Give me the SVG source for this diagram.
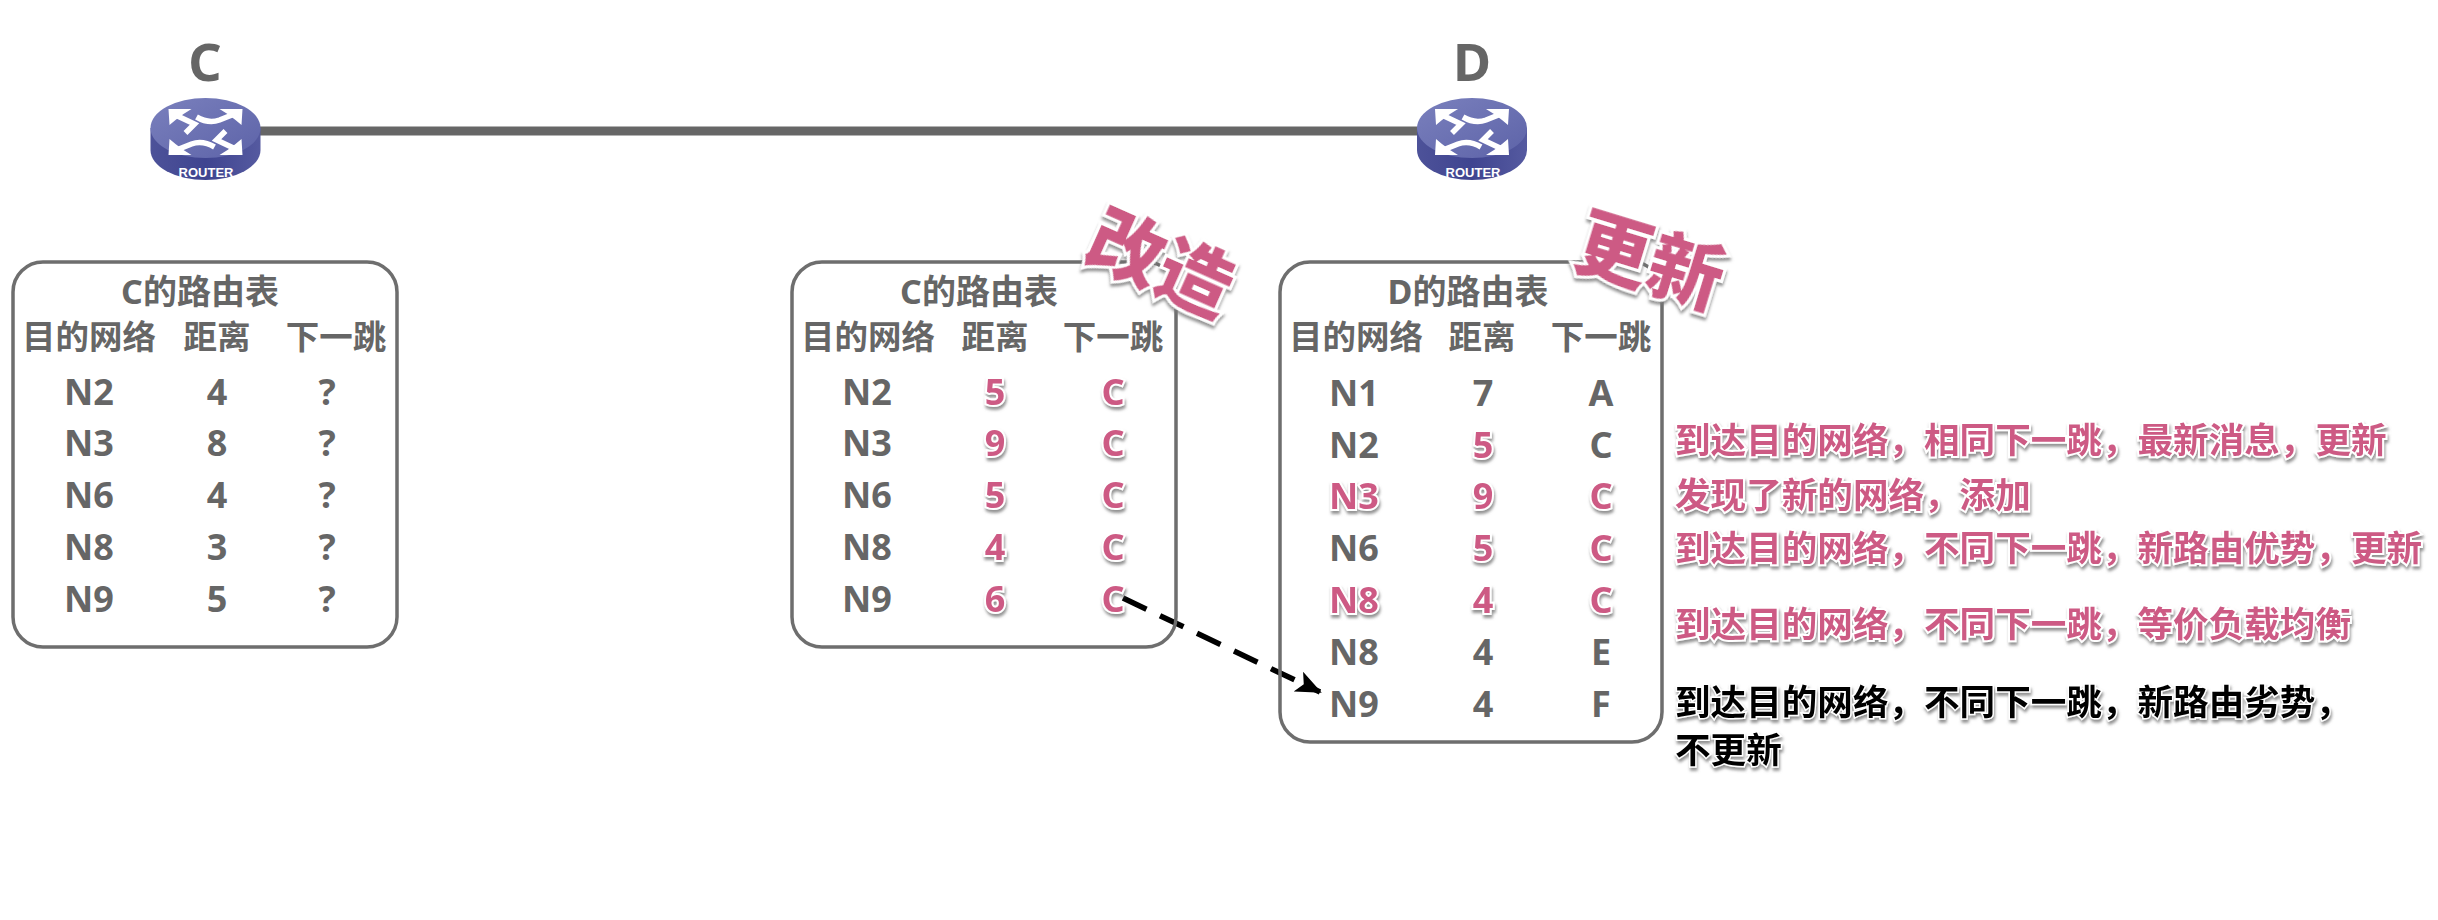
<svg xmlns="http://www.w3.org/2000/svg" width="2438" height="920" viewBox="0 0 2438 920">
<style>
text{font-family:"Noto Sans","Noto Sans CJK SC",sans-serif;font-weight:700}
.c{text-anchor:middle}
.g{fill:#666}
.h{font-size:33.500px}
.ti{font-size:34px}
.r{font-size:36px}
.p{fill:#cd5a84;stroke:#fff;stroke-width:4px;paint-order:stroke;filter:url(#sh)}
.n{font-size:35.6px;font-family:"Noto Sans CJK SC","Noto Sans",sans-serif}
.k{fill:#000;stroke:#fff;stroke-width:3px;paint-order:stroke;filter:url(#sh)}
.big{font-size:75px;font-weight:900;font-family:"Noto Sans CJK SC",sans-serif;fill:#cd5a84;stroke:#fff;stroke-width:6px;paint-order:stroke;filter:url(#sh);text-anchor:middle}
.box{fill:none;stroke:#6e6e6e;stroke-width:3.5}
.rt{fill:#fff;font-size:13px;text-anchor:middle;font-family:"Liberation Sans",sans-serif}
</style>
<defs>
<filter id="sh" x="-20%" y="-30%" width="140%" height="170%"><feDropShadow dx="1" dy="3" stdDeviation="1.5" flood-color="#777" flood-opacity=".8"/></filter>
<linearGradient id="top" x1="0" y1="0" x2="1" y2="1"><stop offset="0" stop-color="#7a80bd"/><stop offset="1" stop-color="#5d63a8"/></linearGradient>
<linearGradient id="base" x1="0" y1="0" x2="1" y2="0"><stop offset="0" stop-color="#4d5299"/><stop offset=".5" stop-color="#3f4490"/><stop offset="1" stop-color="#555aa0"/></linearGradient>
<marker id="ah" markerUnits="userSpaceOnUse" markerWidth="26" markerHeight="22" refX="24" refY="11" orient="auto"><path d="M0,0L26,11L0,22L6,11Z" fill="#000"/></marker>
<g id="router">
<path d="M-55,-3V19A55,30 0 0 0 55,19V-3Z" fill="url(#base)"/>
<ellipse cx="0" cy="-3" rx="55" ry="30" fill="url(#top)"/>
<g id="arrows" fill="none" stroke="#fff" stroke-width="5.500">
<g id="pair">
<path d="M-28,-15L-11,-7L-20,2"/>
<path d="M-37,-22H-14L-22,-17L-30,-11L-36,-6Z" fill="#fff" stroke="none"/>
<path d="M-9,-14Q3,-7 14,-11L29,-17"/>
<path d="M37,-22H14L22,-17L30,-11L36,-6Z" fill="#fff" stroke="none"/>
</g>
<use href="#pair" transform="translate(0,2) rotate(180)"/>
</g>
</g>
</defs>
<rect width="2438" height="920" fill="#fff"/>
<g id="connectors">
<line x1="258" y1="131" x2="1420" y2="131" stroke="#666" stroke-width="9"/>
<line x1="1123" y1="598" x2="1320" y2="692" stroke="#000" stroke-width="5.5" stroke-dasharray="26 15" marker-end="url(#ah)"/>
</g>
<g id="router-c">
<text class="c g" x="205" y="81" font-size="52">C</text>
<use href="#router" transform="translate(205.500,131)"/>
<text class="rt" x="206" y="177">ROUTER</text>
</g>
<g id="router-d">
<text class="c g" x="1472" y="81" font-size="52">D</text>
<use href="#router" transform="translate(1472,131)"/>
<text class="rt" x="1473" y="177">ROUTER</text>
</g>
<g id="table-c-before">
<rect class="box" x="13" y="262" width="384" height="385" rx="30"/>
<text class="c g ti" x="200" y="304">C的路由表</text>
<text class="c g h" x="89" y="349">目的网络</text>
<text class="c g h" x="217" y="349">距离</text>
<text class="c g h" x="336" y="349">下一跳</text>
<text class="c g r" x="89" y="405">N2</text><text class="c g r" x="217" y="405">4</text><text class="c g r" x="327" y="405">?</text>
<text class="c g r" x="89" y="456">N3</text><text class="c g r" x="217" y="456">8</text><text class="c g r" x="327" y="456">?</text>
<text class="c g r" x="89" y="508">N6</text><text class="c g r" x="217" y="508">4</text><text class="c g r" x="327" y="508">?</text>
<text class="c g r" x="89" y="560">N8</text><text class="c g r" x="217" y="560">3</text><text class="c g r" x="327" y="560">?</text>
<text class="c g r" x="89" y="612">N9</text><text class="c g r" x="217" y="612">5</text><text class="c g r" x="327" y="612">?</text>
</g>
<g id="table-c-after">
<rect class="box" x="792" y="262" width="384" height="385" rx="30"/>
<text class="c g ti" x="979" y="304">C的路由表</text>
<text class="c g h" x="868" y="349">目的网络</text>
<text class="c g h" x="995" y="349">距离</text>
<text class="c g h" x="1113" y="349">下一跳</text>
<text class="c g r" x="867" y="405">N2</text><text class="c p r" x="995" y="405">5</text><text class="c p r" x="1113" y="405">C</text>
<text class="c g r" x="867" y="456">N3</text><text class="c p r" x="995" y="456">9</text><text class="c p r" x="1113" y="456">C</text>
<text class="c g r" x="867" y="508">N6</text><text class="c p r" x="995" y="508">5</text><text class="c p r" x="1113" y="508">C</text>
<text class="c g r" x="867" y="560">N8</text><text class="c p r" x="995" y="560">4</text><text class="c p r" x="1113" y="560">C</text>
<text class="c g r" x="867" y="612">N9</text><text class="c p r" x="995" y="612">6</text><text class="c p r" x="1113" y="612">C</text>
<text class="big" transform="translate(1150,288) rotate(24)">改造</text>
</g>
<g id="table-d">
<rect class="box" x="1280" y="262" width="382" height="480" rx="30"/>
<text class="c g ti" x="1468" y="304">D的路由表</text>
<text class="c g h" x="1356" y="349">目的网络</text>
<text class="c g h" x="1482" y="349">距离</text>
<text class="c g h" x="1601" y="349">下一跳</text>
<text class="c g r" x="1354" y="406">N1</text><text class="c g r" x="1483" y="406">7</text><text class="c g r" x="1601" y="406">A</text>
<text class="c g r" x="1354" y="458">N2</text><text class="c p r" x="1483" y="458">5</text><text class="c g r" x="1601" y="458">C</text>
<text class="c p r" x="1354" y="509">N3</text><text class="c p r" x="1483" y="509">9</text><text class="c p r" x="1601" y="509">C</text>
<text class="c g r" x="1354" y="561">N6</text><text class="c p r" x="1483" y="561">5</text><text class="c p r" x="1601" y="561">C</text>
<text class="c p r" x="1354" y="613">N8</text><text class="c p r" x="1483" y="613">4</text><text class="c p r" x="1601" y="613">C</text>
<text class="c g r" x="1354" y="665">N8</text><text class="c g r" x="1483" y="665">4</text><text class="c g r" x="1601" y="665">E</text>
<text class="c g r" x="1354" y="717">N9</text><text class="c g r" x="1483" y="717">4</text><text class="c g r" x="1601" y="717">F</text>
<text class="big" transform="translate(1642,287) rotate(17)">更新</text>
</g>
<g id="notes">
<text class="n p" x="1675" y="453">到达目的网络，相同下一跳，最新消息，更新</text>
<text class="n p" x="1675" y="508">发现了新的网络，添加</text>
<text class="n p" x="1675" y="561">到达目的网络，不同下一跳，新路由优势，更新</text>
<text class="n p" x="1675" y="637">到达目的网络，不同下一跳，等价负载均衡</text>
<text class="n k" x="1675" y="715">到达目的网络，不同下一跳，新路由劣势，</text>
<text class="n k" x="1675" y="763">不更新</text>
</g>
</svg>
